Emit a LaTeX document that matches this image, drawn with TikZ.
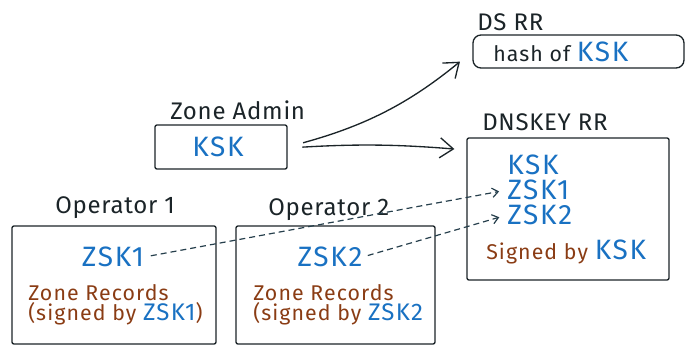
\documentclass[tikz,border=0pt]{standalone}
\usepackage{fontspec}
\setmainfont{Fira Sans}
\usetikzlibrary{arrows.meta}
\definecolor{keyblue}{HTML}{1971C2}
\definecolor{recbrown}{HTML}{8A3C14}
\definecolor{ink}{HTML}{1B2428}
\definecolor{dashink}{HTML}{263F4C}
\newcommand{\keyfont}{\fontsize{21}{18.75}\selectfont\addfontfeature{LetterSpace=6}}
\newcommand{\smallkeyfont}{\fontsize{18}{15}\selectfont\addfontfeature{LetterSpace=5}}
\newcommand{\titlefont}{\fontsize{18}{20}\selectfont\addfontfeature{LetterSpace=3}}
\newcommand{\recfont}{\fontsize{16}{15}\selectfont\addfontfeature{LetterSpace=5}}
\begin{document}
\begin{tikzpicture}[x=0.75pt,y=-0.75pt,
  box/.style={draw=ink,line width=1pt,rounded corners=1.5pt,inner sep=0pt},
  title/.style={anchor=west,inner sep=0pt,text=ink,font=\titlefont},
  key/.style={inner sep=0pt,text=keyblue,font=\keyfont},
  rec/.style={anchor=west,inner sep=0pt,text=recbrown,font=\recfont},
  link/.style={draw=ink,line width=1pt,-{Straight Barb[length=10pt,width=15pt,line width=1pt]}},
  keylink/.style={draw=dashink,line width=0.9pt,dash pattern=on 4.5pt off 3pt,
    -{Straight Barb[length=4.5pt,width=7pt,line width=0.9pt]}}]
  \useasboundingbox (0,0) rectangle (688,351);

  % boxes
  \node[box,minimum width=132*0.75pt,minimum height=44*0.75pt] (za) at (221,147) {};
  \node[box,minimum width=211*0.75pt,minimum height=33*0.75pt,rounded corners=6pt] (ds) at (578.5,51.5) {};
  \node[box,minimum width=202*0.75pt,minimum height=142*0.75pt] (dnskey) at (568,209) {};
  \node[box,minimum width=204*0.75pt,minimum height=118*0.75pt] (op1) at (114,285) {};
  \node[box,minimum width=199*0.75pt,minimum height=118*0.75pt] (op2) at (335.5,285) {};

  % titles
  \node[title] (dsT) at (477,22) {DS RR};
  \node[title] (zaT) at (170,110) {Zone Admin};
  \node[title] (dnT) at (482,122) {DNSKEY RR};
  \node[title] (op1T) at (55,208) {Operator 1};
  \node[title] (op2T) at (268,210) {Operator 2};

  % DS record
  \node[anchor=west,inner sep=0pt,text=ink,font=\recfont] (hash) at (493,52)
    {hash of \textcolor{keyblue}{\keyfont KSK}};

  % zone admin key
  \node[key] (zaK) at (218,147) {KSK};

  % DNSKEY record set: one key per line
  \node[key,anchor=west,align=left] (dnKeys) at (507,190) {KSK\\ZSK1\\ZSK2};
  \coordinate (dnZ1) at (dnKeys.west);
  \coordinate (dnZ2) at ([yshift=-18.75pt]dnKeys.west);
  \node[rec] (dnS) at (486,252)
    {Signed by \textcolor{keyblue}{\keyfont KSK}};

  % operator 1
  \node[key] (op1K) at (113,257) {ZSK1};
  \node[rec,anchor=north west,align=left] (op1R) at (28,284)
    {Zone Records\\(signed by \textcolor{keyblue}{\smallkeyfont ZSK1})};

  % operator 2
  \node[key] (op2K) at (330,257) {ZSK2};
  \node[rec,anchor=north west,align=left] (op2R) at (253,284)
    {Zone Records\\(signed by \textcolor{keyblue}{\smallkeyfont ZSK2}};

  % KSK published upwards
  \draw[link,shorten <=12pt,shorten >=12pt] (za.east) to[bend right=12] (ds.west);
  \draw[link,shorten <=11pt,shorten >=9pt] ([yshift=-0.75pt]za.east) to[bend left=4] (dnskey.west |- 0,150);

  % ZSKs handed to the zone admin
  \draw[keylink,shorten <=5pt,shorten >=6pt] (op1K.east) -- (dnZ1);
  \draw[keylink,shorten <=4pt,shorten >=6pt] (op2K.east) -- (dnZ2);
\end{tikzpicture}
\end{document}
